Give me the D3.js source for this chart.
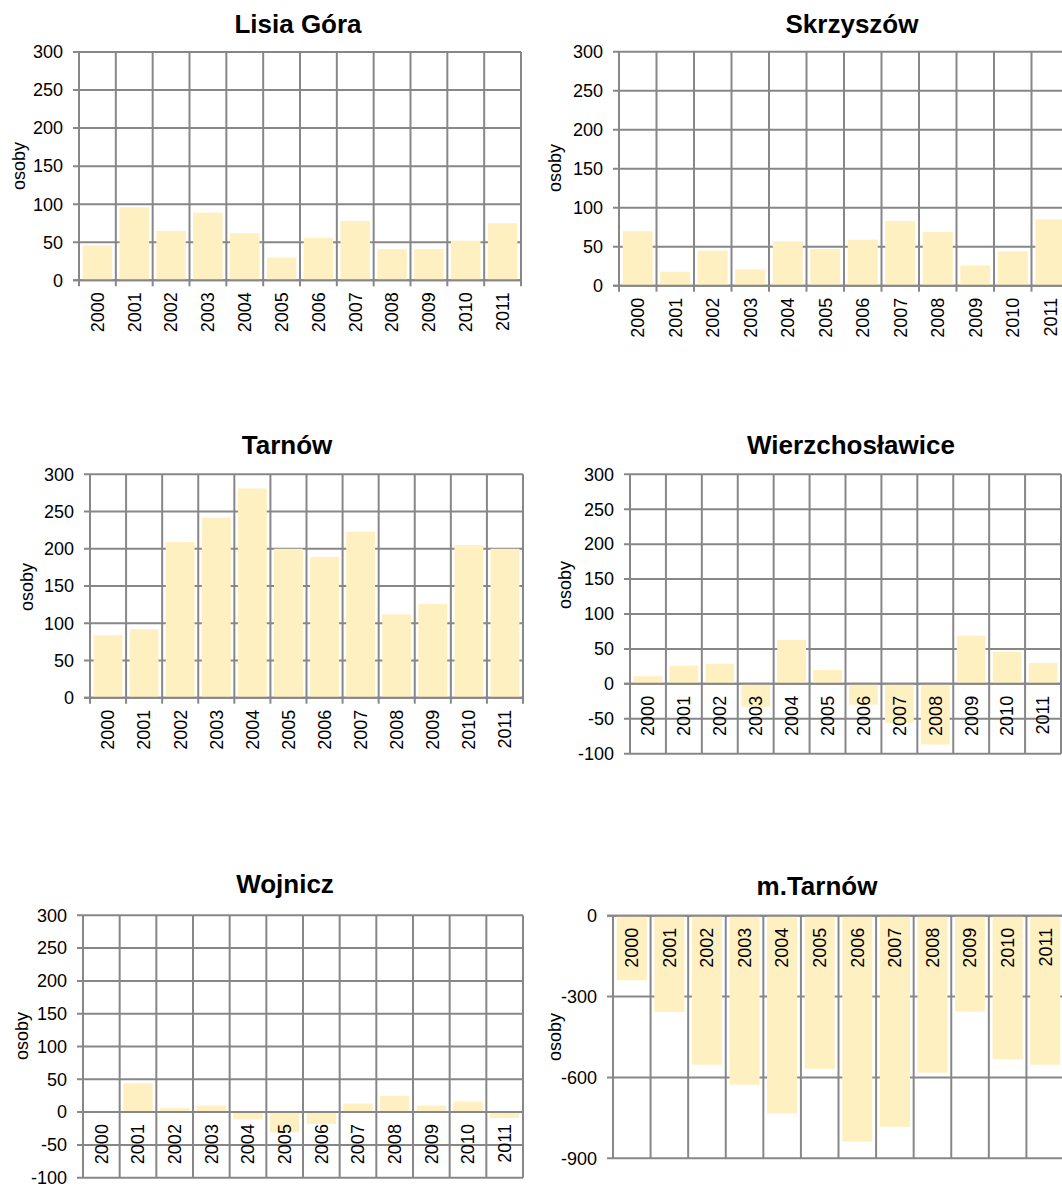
<!DOCTYPE html>
<html>
<head>
<meta charset="utf-8">
<script src="https://cdn.jsdelivr.net/npm/d3@7"></script>
<style>
  body { margin: 0; background: #fff; }
  svg text { font-family: Arial, "Liberation Sans", sans-serif; fill: #000; }
</style>
</head>
<body>
<div id="chart"></div>
<script>
// years on the x axis
var years = ["2000","2001","2002","2003","2004","2005","2006","2007","2008","2009","2010","2011"];

// values per gmina (osoby)
var lisiaGora = [46, 96, 65, 89, 62, 30, 56, 78, 41, 41, 52, 75];
var skrzyszow = [70, 18, 45, 21, 57, 47, 59, 83, 69, 26, 44, 85];
var tarnow = [84, 92, 209, 242, 281, 200, 189, 223, 112, 126, 205, 200];
var wierzchoslawice = [11, 26, 29, -33, 63, 20, -30, -56, -87, 69, 46, 30];
var wojnicz = [0, 44, 6, 10, -11, -31, -18, 13, 25, 10, 16, -9];
var mTarnow = [-240, -357, -553, -627, -734, -568, -838, -783, -582, -356, -533, -553];

// tick values
var ticksPos = [0, 50, 100, 150, 200, 250, 300];
var ticksMixed = [-100, -50, 0, 50, 100, 150, 200, 250, 300];
var ticksNeg = [-900, -600, -300, 0];

var width = 1062, height = 1187;
var gridColor = "#878787";
var barColor = "#fff0c2";

var svg = d3.select("#chart").append("svg")
    .attr("width", width)
    .attr("height", height);

// layout of the six panels
var panels = [
  {title: "Lisia Góra", values: lisiaGora, ticks: ticksPos,
   left: 79, right: 521, top: 52, bottom: 280.3, titleX: 298, titleY: 33, labX: 19, labY: 166},
  {title: "Skrzyszów", values: skrzyszow, ticks: ticksPos,
   left: 619, right: 1069, top: 51.7, bottom: 285.7, titleX: 852, titleY: 33, labX: 555, labY: 168},
  {title: "Tarnów", values: tarnow, ticks: ticksPos,
   left: 90, right: 523, top: 474.3, bottom: 697.7, titleX: 287, titleY: 454, labX: 27, labY: 587},
  {title: "Wierzchosławice", values: wierzchoslawice, ticks: ticksMixed,
   left: 630, right: 1061, top: 474.3, bottom: 753.7, titleX: 851, titleY: 454, labX: 565, labY: 585},
  {title: "Wojnicz", values: wojnicz, ticks: ticksMixed,
   left: 83, right: 523, top: 915.3, bottom: 1177.7, titleX: 285, titleY: 893, labX: 22, labY: 1036},
  {title: "m.Tarnów", values: mTarnow, ticks: ticksNeg,
   left: 613, right: 1064, top: 915.7, bottom: 1158.3, titleX: 817, titleY: 895, labX: 555, labY: 1037}
];

panels.forEach(drawPanel);

function drawPanel(p) {
  var g = svg.append("g");
  var data = years.map(function(d, i) { return {year: d, value: p.values[i]}; });

  var y = d3.scaleLinear()
      .domain(d3.extent(p.ticks))
      .range([p.bottom, p.top]);

  var x = d3.scaleBand()
      .domain(years)
      .range([p.left, p.right])
      .paddingInner(0.2)
      .paddingOuter(0.1);

  var step = x.step();
  var edges = years.map(function(d) { return x(d) - step * 0.1; });
  edges.push(p.right);

  // horizontal gridlines + left ticks
  g.append("g").selectAll("line")
    .data(p.ticks)
    .enter().append("line")
      .attr("x1", p.left - 6)
      .attr("x2", p.right)
      .attr("y1", function(d) { return y(d); })
      .attr("y2", function(d) { return y(d); })
      .attr("stroke", gridColor)
      .attr("stroke-width", 2);

  // bars
  g.append("g").selectAll("rect")
    .data(data)
    .enter().append("rect")
      .attr("x", function(d) { return x(d.year); })
      .attr("width", x.bandwidth())
      .attr("y", function(d) { return y(Math.max(0, d.value)); })
      .attr("height", function(d) { return Math.abs(y(d.value) - y(0)); })
      .attr("fill", barColor);

  // vertical gridlines (with ticks below when the zero line is at the bottom)
  var ext = (y(0) >= p.bottom - 0.5) ? 6 : 0;
  g.append("g").selectAll("line")
    .data(edges)
    .enter().append("line")
      .attr("x1", function(d) { return d; })
      .attr("x2", function(d) { return d; })
      .attr("y1", p.top)
      .attr("y2", p.bottom + ext)
      .attr("stroke", gridColor)
      .attr("stroke-width", 2);

  // zero line on top of bars' edges
  g.append("line")
      .attr("x1", p.left - 6)
      .attr("x2", p.right)
      .attr("y1", y(0))
      .attr("y2", y(0))
      .attr("stroke", gridColor)
      .attr("stroke-width", 2);

  // y tick labels
  g.append("g").selectAll("text")
    .data(p.ticks)
    .enter().append("text")
      .attr("x", p.left - 16)
      .attr("y", function(d) { return y(d); })
      .attr("dy", "0.35em")
      .attr("text-anchor", "end")
      .style("font-size", "18px")
      .text(function(d) { return d; });

  // x labels, rotated, hanging from the zero line
  g.append("g").selectAll("text")
    .data(data)
    .enter().append("text")
      .attr("transform", function(d) {
        return "translate(" + (x(d.year) + x.bandwidth() / 2) + "," + (y(0) + 12) + ") rotate(-90)";
      })
      .attr("dy", "0.35em")
      .attr("text-anchor", "end")
      .style("font-size", "18px")
      .text(function(d) { return d.year; });

  // axis title
  g.append("text")
      .attr("transform", "translate(" + p.labX + "," + p.labY + ") rotate(-90)")
      .attr("dy", "0.35em")
      .attr("text-anchor", "middle")
      .style("font-size", "18px")
      .text("osoby");

  // chart title
  g.append("text")
      .attr("x", p.titleX)
      .attr("y", p.titleY)
      .attr("text-anchor", "middle")
      .style("font-size", "26px")
      .style("font-weight", "bold")
      .text(p.title);
}
</script>
</body>
</html>
